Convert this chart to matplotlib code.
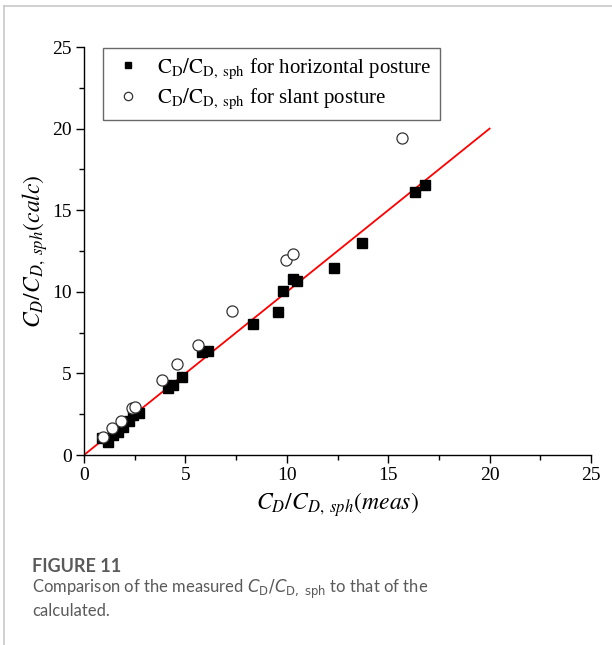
import matplotlib
matplotlib.use("Agg")
import matplotlib.pyplot as plt
from matplotlib.lines import Line2D

plt.rcParams['mathtext.fontset'] = 'stix'
plt.rcParams['font.family'] = ['Liberation Serif', 'DejaVu Serif']

# Horizontal posture (filled squares)
horiz_meas = [0.88, 1.2, 1.45, 1.7, 1.9, 2.2, 2.4, 2.5, 2.7, 4.15, 4.4, 4.84, 5.83, 6.13,
              8.35, 9.58, 9.83, 10.33, 10.52, 12.35, 13.69, 16.3, 16.8]
horiz_calc = [1.04, 0.8, 1.2, 1.4, 1.7, 2.1, 2.45, 2.7, 2.55, 4.1, 4.29, 4.78, 6.31, 6.37,
              8.03, 8.76, 10.05, 10.79, 10.66, 11.46, 12.99, 16.12, 16.54]
# Slant posture (open circles)
slant_meas = [0.95, 1.4, 1.8, 2.35, 2.5, 3.85, 4.59, 5.63, 7.31, 9.98, 10.33, 15.66]
slant_calc = [1.1, 1.65, 2.1, 2.9, 2.95, 4.6, 5.58, 6.74, 8.82, 11.95, 12.32, 19.42]
# Reference line y = x
line_x = [0, 20]
line_y = [0, 20]

fig = plt.figure(figsize=(6.12, 6.45), dpi=100)
ax = fig.add_axes([84/612, 1-455/645, (591-84)/612, (455-47)/645])

ax.plot(line_x, line_y, color='#ff0000', lw=1.3, zorder=2)
ax.plot(horiz_meas, horiz_calc, ls='none', marker='s', ms=6.5, mfc='black', mec='black', zorder=3)
ax.plot(slant_meas, slant_calc, ls='none', marker='o', ms=8, mfc='white', mec='#333333', mew=0.9, zorder=4)

ax.set_xlim(0, 25)
ax.set_ylim(0, 25)
ax.set_xticks([0, 5, 10, 15, 20, 25])
ax.set_yticks([0, 5, 10, 15, 20, 25])
ax.set_xticks([2.5, 7.5, 12.5, 17.5, 22.5], minor=True)
ax.set_yticks([2.5, 7.5, 12.5, 17.5, 22.5], minor=True)
ax.spines['top'].set_visible(False)
ax.spines['right'].set_visible(False)
for s in ('left', 'bottom'):
    ax.spines[s].set_linewidth(1.0)
ax.tick_params(which='major', direction='out', length=6, width=1.0, labelsize=14, pad=3)
ax.tick_params(which='minor', direction='out', length=3.5, width=1.0)

ax.set_xlabel(r'$C_D/C_{D,\ sph}(meas)$', fontsize=17, labelpad=4)
ax.set_ylabel(r'$C_D/C_{D,\ sph}(calc)$', fontsize=17, labelpad=1)

h1 = Line2D([], [], ls='none', marker='s', ms=5, mfc='black', mec='black')
h2 = Line2D([], [], ls='none', marker='o', ms=6, mfc='white', mec='#333333', mew=0.9)
leg = ax.legend([h1, h2],
                [r'$\mathrm{C_D/C_{D,\ sph}}$ for horizontal posture',
                 r'$\mathrm{C_D/C_{D,\ sph}}$ for slant posture'],
                loc='upper left', bbox_to_anchor=(0.037, 0.998), fontsize=15,
                frameon=True, fancybox=False, edgecolor='#444444',
                handlelength=1.6, handletextpad=0.6, borderpad=0.4, labelspacing=0.3,
                borderaxespad=0.0)
leg.get_frame().set_linewidth(1.0)

# Panel border lines
fig.add_artist(Line2D([4/612, 4/612], [0, 1-6/645], transform=fig.transFigure, color='#c8c8c8', lw=1.2))
fig.add_artist(Line2D([4/612, 1], [1-6/645, 1-6/645], transform=fig.transFigure, color='#c8c8c8', lw=1.2))

cap_font = ['Lato', 'DejaVu Sans']
fig.text(32/612, 1-567/645, 'FIGURE 11', fontsize=13, fontweight='bold', color='#5a5a5a',
         family=cap_font, va='center', ha='left')
fig.text(32/612, 1-589/645, r'Comparison of the measured $C_\mathrm{D}/C_\mathrm{D,\ sph}$ to that of the',
         fontsize=12, color='#5a5a5a', family=cap_font, va='center', ha='left',
         math_fontfamily='dejavusans')
fig.text(32/612, 1-611/645, 'calculated.', fontsize=12, color='#5a5a5a', family=cap_font,
         va='center', ha='left')

fig.savefig('out.png', dpi=100)
